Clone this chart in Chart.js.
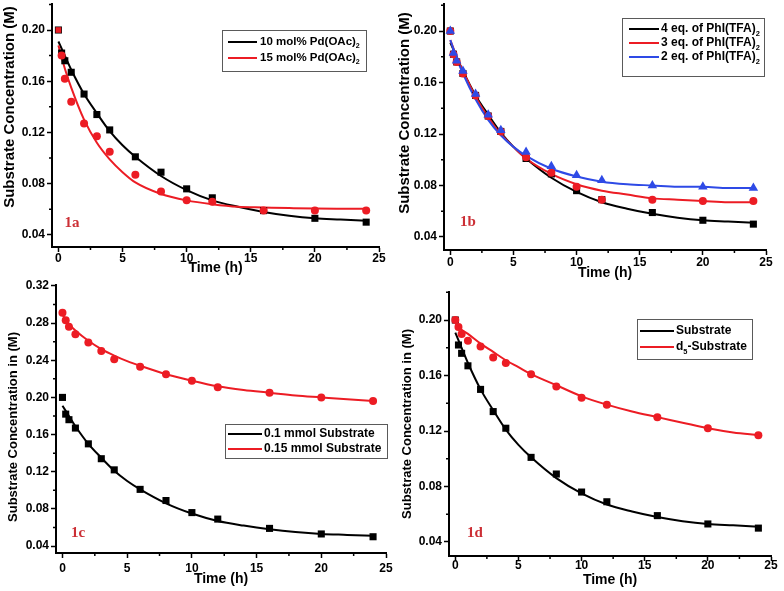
<!DOCTYPE html>
<html>
<head>
<meta charset="utf-8">
<script src="https://cdn.jsdelivr.net/npm/chart.js@4.4.1/dist/chart.umd.min.js"></script>
<style>
  body { margin: 0; background: #fff; width: 784px; height: 591px; position: relative; overflow: hidden; }
  canvas { position: absolute; }
</style>
</head>
<body>
<canvas id="c1a" width="392" height="293" style="left:0px;top:-16px"></canvas>
<canvas id="c1b" width="392" height="298" style="left:392px;top:-16px"></canvas>
<canvas id="c1c" width="400" height="323" style="left:0px;top:265px"></canvas>
<canvas id="c1d" width="392" height="317" style="left:392px;top:272px"></canvas>
<script>
// sampling times (h) of the measured points
const times = [0, 0.25, 0.5, 1, 2, 3, 4, 6, 8, 10, 12, 16, 20, 24];
// measured concentrations (M)
const substrate = [0.200, 0.182, 0.176, 0.167, 0.150, 0.134, 0.122, 0.101, 0.089, 0.076, 0.069, 0.059, 0.053, 0.050];
const pd15 = [0.200, 0.180, 0.162, 0.144, 0.127, 0.117, 0.105, 0.087, 0.074, 0.067, 0.066, 0.059, 0.059, 0.059];
const phi3 = [0.200, 0.182, 0.176, 0.167, 0.150, 0.134, 0.122, 0.102, 0.090, 0.079, 0.069, 0.069, 0.068, 0.068];
const phi2 = [0.200, 0.183, 0.177, 0.169, 0.151, 0.135, 0.123, 0.106, 0.095, 0.088, 0.084, 0.080, 0.079, 0.078];
const sub015 = [0.291, 0.283, 0.276, 0.268, 0.259, 0.250, 0.241, 0.233, 0.225, 0.218, 0.211, 0.205, 0.200, 0.196];
const d5sub = [0.200, 0.195, 0.190, 0.185, 0.181, 0.173, 0.169, 0.161, 0.152, 0.144, 0.139, 0.130, 0.122, 0.117];

// fitted curves
const fitTimes = [0, 0.5, 1, 2, 3, 4, 5, 6, 8, 10, 12, 14, 16, 18, 20, 22, 24];
const substrateFit = [0.191, 0.180, 0.169, 0.150, 0.135, 0.121, 0.110, 0.101, 0.086, 0.075, 0.067, 0.062, 0.058, 0.055, 0.053, 0.052, 0.051];
const pd15Fit = [0.188, 0.170, 0.155, 0.130, 0.112, 0.099, 0.089, 0.081, 0.072, 0.067, 0.064, 0.062, 0.0615, 0.061, 0.0606, 0.0605, 0.0605];
const phi3Fit = [0.193, 0.180, 0.169, 0.149, 0.133, 0.120, 0.110, 0.101, 0.089, 0.081, 0.076, 0.073, 0.070, 0.069, 0.068, 0.067, 0.067];
const phi2Fit = [0.193, 0.179, 0.167, 0.147, 0.131, 0.119, 0.110, 0.103, 0.093, 0.087, 0.083, 0.081, 0.080, 0.079, 0.079, 0.078, 0.078];
const sub015Fit = [0.289, 0.279, 0.272, 0.261, 0.252, 0.245, 0.239, 0.234, 0.225, 0.218, 0.212, 0.208, 0.205, 0.202, 0.200, 0.198, 0.196];
const d5Fit = [0.197, 0.193, 0.190, 0.183, 0.177, 0.171, 0.166, 0.161, 0.153, 0.145, 0.139, 0.134, 0.130, 0.126, 0.122, 0.119, 0.117];

// ticks
const xTicks = [0, 5, 10, 15, 20, 25];
const xMinor = [2.5, 7.5, 12.5, 17.5, 22.5];
const yTicks = [0.04, 0.08, 0.12, 0.16, 0.20];
const yMinor = [0.06, 0.10, 0.14, 0.18, 0.22];
const yTicksC = [0.04, 0.08, 0.12, 0.16, 0.20, 0.24, 0.28, 0.32];
const yMinorC = [0.06, 0.10, 0.14, 0.18, 0.22, 0.26, 0.30];

const BLACK = "#000000";
const RED = "#ec1c24";
const BLUE = "#2e4ae6";
const FONT = '"Liberation Sans", Arial, sans-serif';

Chart.defaults.font.family = FONT;
Chart.defaults.font.weight = "bold";
Chart.defaults.font.size = 12;
Chart.defaults.color = "#000";

function pts(xs, ys) {
  return xs.map((x, i) => ({ x, y: ys[i] }));
}

function fitSet(label, ys, color, order) {
  return {
    label, fit: true, data: pts(fitTimes, ys), showLine: true,
    borderColor: color, borderWidth: 2, pointRadius: 0,
    cubicInterpolationMode: "monotone", order
  };
}

function markSet(ys, color, style, radius, order) {
  return {
    data: pts(times, ys), showLine: false, backgroundColor: color, borderColor: color,
    borderWidth: 0, pointStyle: style, pointRadius: radius, order
  };
}

// draws "abc_2" with 2 as subscript
function drawRich(ctx, text, x, y, size) {
  const parts = text.split(/_(.)/);
  parts.forEach((p, i) => {
    if (!p) return;
    const sub = i % 2 === 1;
    ctx.font = "bold " + (sub ? size * 0.62 : size) + "px " + FONT;
    ctx.fillText(p, x, sub ? y + size * 0.38 : y);
    x += ctx.measureText(p).width;
  });
}

const overlay = {
  id: "overlay",
  afterDraw(chart, args, o) {
    const ctx = chart.ctx;
    const [ox, oy] = o.origin;
    const { left, bottom } = chart.chartArea;
    const xs = chart.scales.x, ys = chart.scales.y;
    ctx.save();

    // minor ticks
    ctx.strokeStyle = "#000";
    ctx.lineWidth = 1.5;
    ctx.beginPath();
    o.xMinor.forEach(v => {
      const px = xs.getPixelForValue(v);
      ctx.moveTo(px, bottom); ctx.lineTo(px, bottom + 3);
    });
    o.yMinor.filter(v => v >= ys.min && v <= ys.max).forEach(v => {
      const py = ys.getPixelForValue(v);
      ctx.moveTo(left, py); ctx.lineTo(left - 3, py);
    });
    ctx.stroke();

    // y title
    ctx.save();
    ctx.translate(o.yTitle.x - ox, o.yTitle.y - oy);
    ctx.rotate(-Math.PI / 2);
    ctx.font = "bold " + o.yTitle.size + "px " + FONT;
    ctx.fillStyle = "#000";
    ctx.textAlign = "center";
    ctx.textBaseline = "middle";
    ctx.fillText(o.yTitle.text, 0, 0);
    ctx.restore();

    // panel tag
    ctx.font = 'bold 15px "Liberation Serif", "Times New Roman", serif';
    ctx.fillStyle = "#cc2f35";
    ctx.textAlign = "center";
    ctx.textBaseline = "middle";
    ctx.fillText(o.tag.text, o.tag.x - ox, o.tag.y - oy);

    // legend
    const L = o.legend;
    ctx.strokeStyle = "#5a5a5a";
    ctx.lineWidth = 1;
    ctx.strokeRect(L.x - ox + 0.5, L.y - oy + 0.5, L.w, L.h);
    ctx.textAlign = "left";
    ctx.fillStyle = "#000";
    const fits = chart.data.datasets.filter(d => d.fit);
    fits.forEach((d, i) => {
      const ry = L.rows[i] - oy;
      ctx.strokeStyle = d.borderColor;
      ctx.lineWidth = 2;
      ctx.beginPath();
      ctx.moveTo(L.lineX[0] - ox, ry); ctx.lineTo(L.lineX[1] - ox, ry);
      ctx.stroke();
      drawRich(ctx, d.label, L.textX - ox, ry, L.size);
    });
    ctx.restore();
  }
};

function makePanel(id, p) {
  const xh = p.xh, yw = p.yw;
  new Chart(document.getElementById(id), {
    type: "scatter",
    data: { datasets: p.datasets },
    plugins: [overlay],
    options: {
      responsive: false,
      animation: false,
      events: [],
      layout: { padding: { top: 20, right: p.pr, bottom: 0, left: 0 } },
      plugins: {
        legend: { display: false },
        tooltip: { enabled: false },
        overlay: p.overlay
      },
      scales: {
        x: {
          type: "linear", min: -0.5, max: 25,
          border: { display: true, color: "#000", width: 2 },
          grid: { drawOnChartArea: false, drawTicks: true, tickLength: 5, tickColor: "#000", tickWidth: 1.5 },
          ticks: { padding: p.tickPad, font: { size: 12, weight: "bold" } },
          afterBuildTicks: s => { s.ticks = xTicks.map(v => ({ value: v })); },
          afterFit: s => { s.height = xh; },
          title: { display: true, text: "Time (h)", font: { size: 14, weight: "bold" }, padding: 0 }
        },
        y: {
          type: "linear", min: p.yMin, max: p.yMax,
          border: { display: true, color: "#000", width: 2 },
          grid: { drawOnChartArea: false, drawTicks: true, tickLength: 5, tickColor: "#000", tickWidth: 1.5 },
          ticks: { padding: 2, font: { size: 12, weight: "bold" }, callback: v => v.toFixed(2) },
          afterBuildTicks: s => { s.ticks = p.yTicks.map(v => ({ value: v })); },
          afterFit: s => { s.width = yw; }
        }
      }
    }
  });
}

// 1a
makePanel("c1a", {
  pr: 13, yw: 52, xh: 30, tickPad: -1, yMin: 0.0306, yMax: 0.2203, yTicks: yTicks,
  datasets: [
    markSet(pd15, RED, ctx => ctx.dataIndex === 0 ? "rect" : "circle", 4, 1),
    markSet(substrate, BLACK, "rect", 5, 2),
    fitSet("15 mol% Pd(OAc)_2", pd15Fit, RED, 11),
    fitSet("10 mol% Pd(OAc)_2", substrateFit, BLACK, 12)
  ],
  overlay: {
    origin: [0, -16], xMinor, yMinor,
    yTitle: { text: "Substrate Concentration (M)", x: 10, y: 107, size: 15 },
    tag: { text: "1a", x: 72, y: 223 },
    legend: { x: 222, y: 30, w: 144, h: 41, rows: [58, 42], lineX: [228, 257], textX: 260, size: 11.5 }
  }
});

// 1b
makePanel("c1b", {
  pr: 18, yw: 52, xh: 32, tickPad: 0, yMin: 0.0299, yMax: 0.221, yTicks: yTicks,
  datasets: [
    markSet(phi2, BLUE, "triangle", 5.5, 1),
    markSet(phi3, RED, "circle", 4, 2),
    markSet(substrate, BLACK, "rect", 5, 3),
    fitSet("2 eq. of PhI(TFA)_2", phi2Fit, BLUE, 11),
    fitSet("3 eq. of PhI(TFA)_2", phi3Fit, RED, 12),
    fitSet("4 eq. of PhI(TFA)_2", substrateFit, BLACK, 13)
  ],
  overlay: {
    origin: [392, -16], xMinor, yMinor,
    yTitle: { text: "Substrate Concentration (M)", x: 405, y: 113, size: 15 },
    tag: { text: "1b", x: 468, y: 222 },
    legend: { x: 622, y: 18, w: 142, h: 58, rows: [57, 43, 29], lineX: [629, 659], textX: 661, size: 12 }
  }
});

// 1c
makePanel("c1c", {
  pr: 14, yw: 56, xh: 35, tickPad: 3, yMin: 0.0325, yMax: 0.321, yTicks: yTicksC,
  datasets: [
    markSet(sub015, RED, "circle", 4, 1),
    markSet(substrate, BLACK, "rect", 5, 2),
    fitSet("0.15 mmol Substrate", sub015Fit, RED, 11),
    fitSet("0.1 mmol Substrate", substrateFit, BLACK, 12)
  ],
  overlay: {
    origin: [0, 265], xMinor, yMinor: yMinorC,
    yTitle: { text: "Substrate Concentration in (M)", x: 13, y: 427, size: 13 },
    tag: { text: "1c", x: 78, y: 533 },
    legend: { x: 225, y: 424, w: 162, h: 34, rows: [449, 434], lineX: [228, 262], textX: 264, size: 12 }
  }
});

// 1d
makePanel("c1d", {
  pr: 13, yw: 57, xh: 33, tickPad: -3, yMin: 0.0299, yMax: 0.2202, yTicks: yTicks,
  datasets: [
    markSet(d5sub, RED, "circle", 4, 1),
    markSet(substrate, BLACK, "rect", 5, 2),
    fitSet("d_5-Substrate", d5Fit, RED, 11),
    fitSet("Substrate", substrateFit, BLACK, 12)
  ],
  overlay: {
    origin: [392, 272], xMinor, yMinor,
    yTitle: { text: "Substrate Concentration in (M)", x: 407, y: 424, size: 13 },
    tag: { text: "1d", x: 475, y: 533 },
    legend: { x: 637, y: 319, w: 115, h: 40, rows: [347, 331], lineX: [640, 674], textX: 676, size: 12 }
  }
});
</script>
</body>
</html>
